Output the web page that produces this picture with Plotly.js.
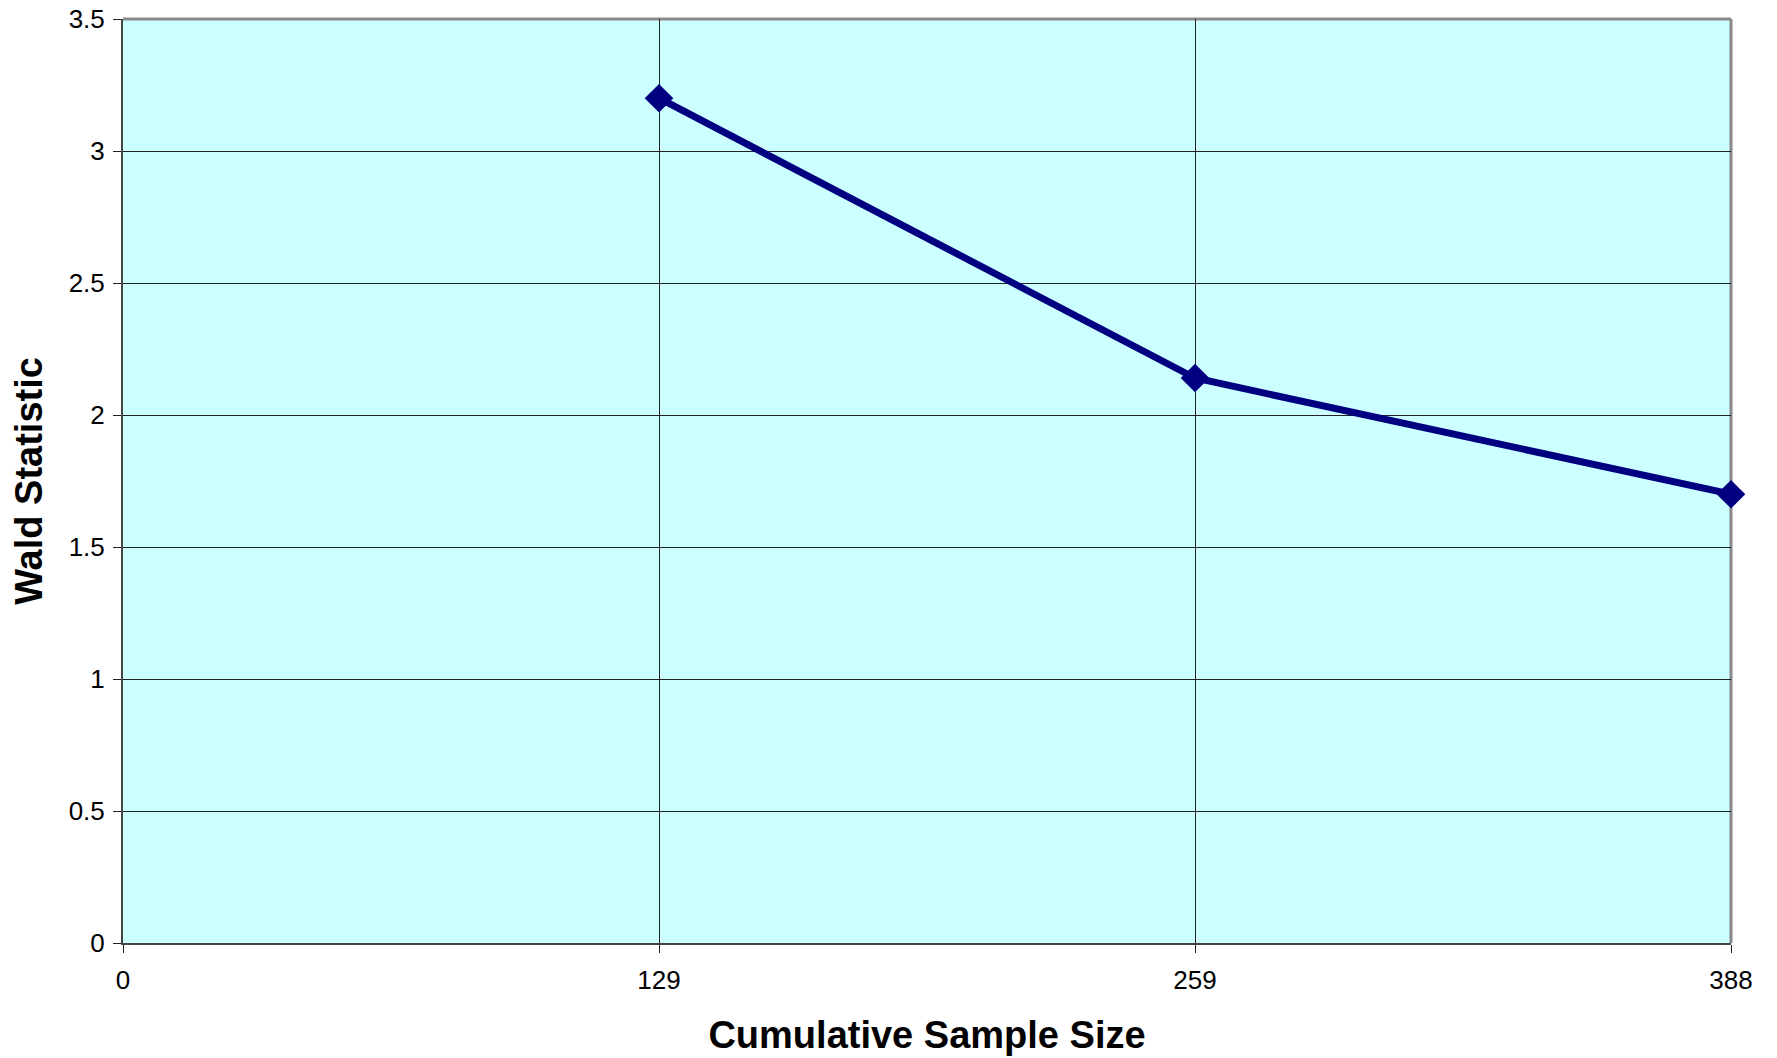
<!DOCTYPE html>
<html>
<head>
<meta charset="utf-8">
<script src="https://cdn.plot.ly/plotly-3.0.1.min.js"></script>
<style>html,body{margin:0;padding:0;background:#fff;}#chart{width:1777px;height:1058px;}</style>
</head>
<body>
<div id="chart"></div>
<script>
const sampleSizes = ['0', '129', '259', '388'];
const waldStat = [null, 3.20, 2.14, 1.70];
const yTicks = [0, 0.5, 1, 1.5, 2, 2.5, 3, 3.5];

const trace = {
  x: sampleSizes,
  y: waldStat,
  type: 'scatter',
  mode: 'lines+markers',
  line: {color: '#000080', width: 7},
  marker: {symbol: 'diamond', size: 22, color: '#000080'},
  cliponaxis: false,
  connectgaps: false,
  hoverinfo: 'x+y'
};

const layout = {
  width: 1777, height: 1058,
  margin: {l: 123, r: 46, t: 19, b: 115},
  paper_bgcolor: '#ffffff',
  plot_bgcolor: '#ccffff',
  showlegend: false,
  font: {family: 'Liberation Sans, Arial, sans-serif', size: 26, color: '#000'},
  xaxis: {
    type: 'category',
    categoryorder: 'array',
    categoryarray: sampleSizes,
    range: [0, 3],
    showgrid: true, gridcolor: '#222', gridwidth: 1,
    showline: true, linecolor: '#444', linewidth: 2,
    ticks: 'outside', ticklen: 8, tickcolor: '#222', tickwidth: 1,
    ticklabelstandoff: 5,
    zeroline: false,
    tickfont: {size: 26},
    title: {text: 'Cumulative Sample Size', font: {size: 38, weight: 'bold'}, standoff: 27}
  },
  yaxis: {
    range: [0, 3.5],
    tickvals: yTicks,
    showgrid: true, gridcolor: '#222', gridwidth: 1,
    showline: true, linecolor: '#444', linewidth: 2,
    ticks: 'outside', ticklen: 8, tickcolor: '#222', tickwidth: 1,
    ticklabelstandoff: 3,
    zeroline: false,
    tickfont: {size: 26},
    title: {text: 'Wald Statistic', font: {size: 38, weight: 'bold'}, standoff: 14}
  },
  shapes: [
    {type: 'line', xref: 'paper', yref: 'paper', x0: 0, x1: 1, y0: 1, y1: 1, line: {color: '#888', width: 3}, layer: 'below'},
    {type: 'line', xref: 'paper', yref: 'paper', x0: 1, x1: 1, y0: 0, y1: 1, line: {color: '#888', width: 3}, layer: 'below'}
  ]
};

Plotly.newPlot('chart', [trace], layout, {staticPlot: true, displayModeBar: false});
</script>
</body>
</html>
